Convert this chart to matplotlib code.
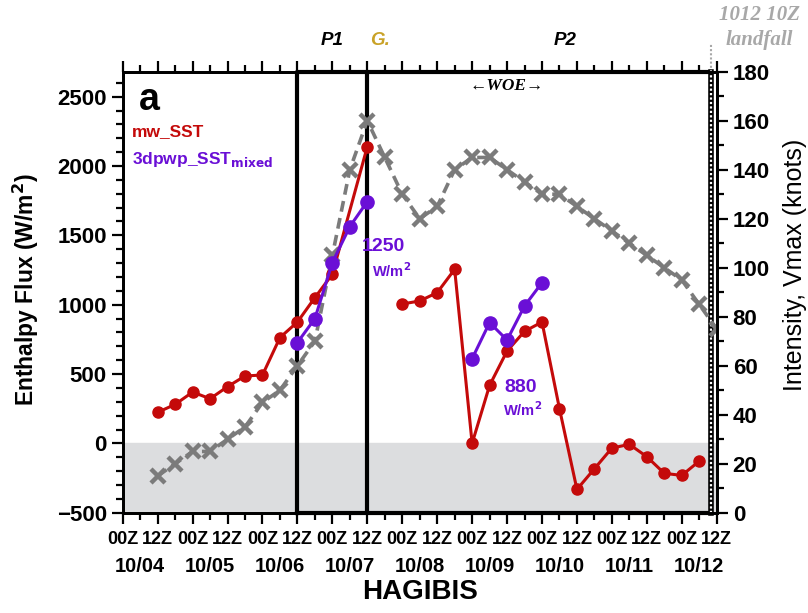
import matplotlib
matplotlib.use('Agg')
import matplotlib.pyplot as plt
import matplotlib.transforms as mtransforms
from matplotlib.ticker import MultipleLocator

plt.rcParams['font.family'] = ['Liberation Sans', 'DejaVu Sans']
plt.rcParams['font.weight'] = 'bold'

# hours after 00Z 10/04
vmax_hours = [12, 18, 24, 30, 36, 42, 48, 54, 60, 66, 72, 78, 84, 90, 96, 102, 108,
              114, 120, 126, 132, 138, 144, 150, 156, 162, 168, 174, 180, 186, 192, 198, 204]
vmax_knots = [15, 20, 25, 25, 30, 35, 45, 50, 60, 70, 105, 140, 160, 145, 130, 120, 125,
              140, 145, 145, 140, 135, 130, 130, 125, 120, 115, 110, 105, 100, 95, 85, 75]

mw_hours_1 = [12, 18, 24, 30, 36, 42, 48, 54, 60, 66, 72, 84]
mw_flux_1 = [224, 281, 370, 322, 409, 486, 493, 763, 875, 1051, 1220, 2140]
mw_hours_2 = [96, 102, 108, 114, 120, 126, 132, 138, 144, 150, 156, 162, 168, 174, 180, 186, 192, 198]
mw_flux_2 = [1005, 1027, 1087, 1255, 0, 418, 666, 808, 875, 250, -332, -183, -34, -7, -96, -216, -231, -128]

pwp_hours_1 = [60, 66, 72, 78, 84]
pwp_flux_1 = [727, 900, 1304, 1563, 1744]
pwp_hours_2 = [120, 126, 132, 138, 144]
pwp_flux_2 = [611, 871, 745, 991, 1159]

hour_labels = ['00Z', '12Z'] * 9
date_labels = ['10/04', '10/05', '10/06', '10/07', '10/08', '10/09', '10/10', '10/11', '10/12']

red = '#c40a0a'
purple = '#6a0fd6'
gray = '#7b7b7b'
flux_lim = (-500, 2680)
vmax_lim = (0, 180)

fig = plt.figure(figsize=(8.08, 6.13), dpi=100)
ax = fig.add_axes([0.1519, 0.1636, 0.7351, 0.8830 - 0.1636])
ax2 = ax.twinx()

ax.set_xlim(0, 204)
ax.set_ylim(*flux_lim)
ax2.set_ylim(*vmax_lim)

# shading below zero flux, drawn on the back axes
zero_frac = (0 - flux_lim[0]) / (flux_lim[1] - flux_lim[0])
ax2.axhspan(vmax_lim[0], vmax_lim[0] + zero_frac * (vmax_lim[1] - vmax_lim[0]),
            color='#dcdddf', zorder=0)

# period box and genesis line
ax2.plot([60, 202, 202, 60, 60], [0, 0, 1, 1, 0], color='black', lw=3, zorder=1,
         transform=ax2.get_xaxis_transform(), clip_on=False)
ax2.axvline(84, color='black', lw=3, zorder=1)
ax2.axvline(202, color='black', lw=4, zorder=1.5, clip_on=False)
ax2.axvline(202, color='white', lw=1.6, ls=(0, (1, 1)), zorder=1.6, clip_on=False)
ax2.plot([202, 202], [1, 1.065], color='#a8a8a8', lw=1.5, ls=(0, (1, 1)),
         transform=ax2.get_xaxis_transform(), clip_on=False)

ax2.plot(vmax_hours, vmax_knots, color=gray, lw=2.6, ls=(0, (3, 1.8)),
         marker='x', ms=10, mew=3.2, zorder=3)

ax.plot(mw_hours_1, mw_flux_1, color=red, lw=2.2, marker='o', ms=8, zorder=4)
ax.plot(mw_hours_2, mw_flux_2, color=red, lw=2.2, marker='o', ms=8, zorder=4)
ax.plot(pwp_hours_1, pwp_flux_1, color=purple, lw=2.2, marker='o', ms=9.5, zorder=5)
ax.plot(pwp_hours_2, pwp_flux_2, color=purple, lw=2.2, marker='o', ms=9.5, zorder=5)
ax.set_zorder(ax2.get_zorder() + 1)
ax.patch.set_visible(False)
ax2.patch.set_visible(True)
ax2.patch.set_facecolor('white')

# ticks
ax.set_xticks(range(0, 205, 12))
ax.set_xticklabels(hour_labels)
ax.xaxis.set_minor_locator(MultipleLocator(6))
ax.tick_params(axis='x', which='both', direction='out', top=True, labeltop=False,
               labelsize=13, pad=5)
ax.tick_params(axis='x', which='major', length=8, width=1.6)
ax.tick_params(axis='x', which='minor', length=5, width=1.6)

ax.set_yticks(range(-500, 2501, 500))
ax.yaxis.set_minor_locator(MultipleLocator(100))
ax.tick_params(axis='y', which='major', direction='out', length=8, width=1.6, labelsize=16)
ax.tick_params(axis='y', which='minor', direction='out', length=5, width=1.6)

ax2.set_yticks(range(0, 181, 20))
ax2.yaxis.set_minor_locator(MultipleLocator(10))
ax2.tick_params(axis='y', which='major', direction='out', length=8, width=1.6, labelsize=16)
ax2.tick_params(axis='y', which='minor', direction='out', length=5, width=1.6)

for lab in ax.get_xticklabels() + ax.get_yticklabels() + ax2.get_yticklabels():
    lab.set_fontweight('bold')

for a in (ax, ax2):
    for s in a.spines.values():
        s.set_linewidth(2)

trans = mtransforms.blended_transform_factory(ax.transData, ax.transAxes)
for i, d in enumerate(date_labels):
    ax.text(6 + 24 * i, -0.122, d, transform=trans, ha='center', va='center',
            fontsize=14.5, fontweight='bold')

ax.set_ylabel('Enthalpy Flux (W/m$^\\mathbf{2}$)', fontsize=16.5, fontweight='bold')
ax.yaxis.set_label_coords(-0.138, 0.505)
fig.text(0.9845, 0.568, 'Intensity, Vmax (knots)', rotation=90, ha='center', va='center',
         fontsize=18, fontweight='normal')
fig.text(0.52, 0.034, 'HAGIBIS', ha='center', va='center', fontsize=20)

# annotations
ax.text(0.027, 0.935, 'a', transform=ax.transAxes, fontsize=27, va='center', ha='left')
ax.text(0.016, 0.865, 'mw_SST', transform=ax.transAxes, fontsize=12.5, color=red, va='center')
ax.text(0.016, 0.80, '3dpwp_SST$_{\\mathbf{mixed}}$', transform=ax.transAxes, fontsize=12.5,
        color=purple, va='center')
ax.text(89.5, 1420, '1250', fontsize=14, color=purple, ha='center', va='center')
ax.text(92.5, 1245, 'W/m$^\\mathbf{2}$', fontsize=10.5, color=purple, ha='center', va='center')
ax.text(136.5, 404, '880', fontsize=14, color=purple, ha='center', va='center')
ax.text(137.5, 245, 'W/m$^\\mathbf{2}$', fontsize=10.5, color=purple, ha='center', va='center')
ax.text(132, 2575, '\u2190WOE\u2192', fontsize=12.5, style='italic', fontweight='bold',
        ha='center', va='center', family=['Liberation Serif', 'DejaVu Serif'])

ax.text(72, 1.07, 'P1', transform=trans, fontsize=13.5, style='italic', ha='center', va='center')
ax.text(85, 1.07, 'G.', transform=trans, fontsize=13.5, style='italic', ha='left', va='center',
        color='#c9a227')
ax.text(152, 1.07, 'P2', transform=trans, fontsize=13.5, style='italic', ha='center', va='center')
fig.text(0.94, 0.975, '1012 10Z', fontsize=15, style='italic', fontweight='bold', color='#a8a8a8',
         ha='center', va='center', family=['Liberation Serif', 'DejaVu Serif'])
fig.text(0.94, 0.934, 'landfall', fontsize=15, style='italic', fontweight='bold', color='#a8a8a8',
         ha='center', va='center', family=['Liberation Serif', 'DejaVu Serif'])

fig.savefig('out.png', dpi=100)
